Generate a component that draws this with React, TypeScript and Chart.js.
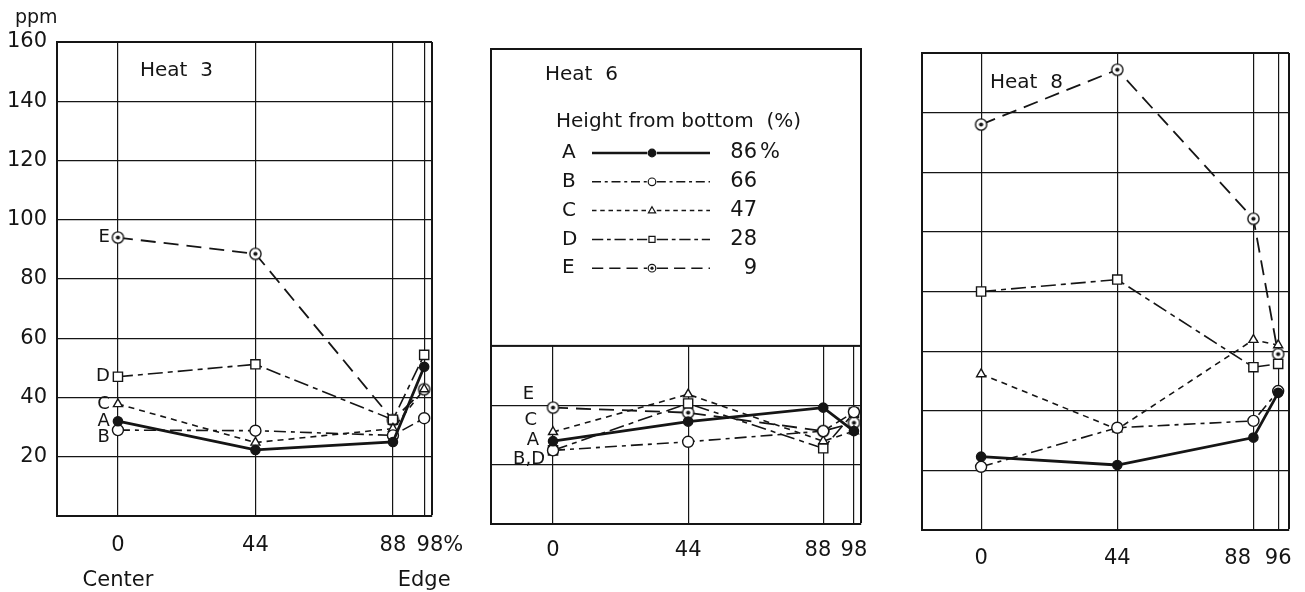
import React, { useEffect, useRef } from 'react';
import { Chart, registerables } from 'chart.js';

Chart.register(...registerables);

const FONT = '"DejaVu Sans", "Noto Sans", sans-serif';
const INK = '#151515';
const W = 1305;
const H = 592;
const EN = '\u2002';

// ---------- data ----------
const seriesNames = ['A', 'B', 'C', 'D', 'E'];
const heightsFromBottom = ['86%', '66', '47', '28', '9'];
const legendHeader = 'Height from bottom  (%)';

const heat3Positions = [0, 44, 88, 98];
const heat3TickLabels: (string | string[])[] = [['0', 'Center'], '44', '88', [EN + EN + EN + '98%', 'Edge']];
const heat3A = [32, 22.3, 25, 50.4];
const heat3B = [29, 28.8, 27.2, 33];
const heat3C = [37.8, 24.8, 29.5, 42.8];
const heat3D = [47, 51.2, 32.5, 54.4];
const heat3E = [94, 88.5, 32.4, 42.8];

const heat6Positions = [0, 44, 88, 98];
const heat6TickLabels: (string | string[])[] = ['0', '44', '88' + EN, '98'];
const heat6A = [27.9, 34.5, 39.2, 31.3];
const heat6B = [24.8, 27.7, 31.3, 37.7];
const heat6C = [31, 43.7, 27.9, 31.3];
const heat6D = [24.8, 40.6, 25.5, 37.5];
const heat6E = [39.2, 37.5, 31.3, 34.1];

const heat8Positions = [0, 44, 88, 96];
const heat8TickLabels: (string | string[])[] = ['0', '44', '88' + EN + EN + EN, '96'];
const heat8A = [24.6, 21.8, 31, 46];
const heat8B = [21.2, 34.3, 36.6, 46.6];
const heat8C = [52.3, 33.8, 63.8, 62];
const heat8D = [80, 84, 54.6, 55.7];
const heat8E = [136, 154.4, 104.4, 59];

const yMin = 0;
const yMax = 160;
const yStep = 20;

// ---------- styles ----------
type SeriesStyle = { dash: number[]; width: number; point: string; radius: number; fill: string };
const seriesStyles: SeriesStyle[] = [
  { dash: [], width: 2.8, point: 'circle', radius: 4.6, fill: INK },
  { dash: [12, 5, 4, 5], width: 1.6, point: 'circle', radius: 5.5, fill: '#fff' },
  { dash: [6, 5], width: 1.6, point: 'triangle', radius: 5.2, fill: '#fff' },
  { dash: [15, 5, 5, 5], width: 1.6, point: 'rect', radius: 6.5, fill: '#fff' },
  { dash: [15, 8], width: 1.8, point: 'eye', radius: 6, fill: '#fff' },
];

type Note = { text: string; s: number; dx: number; dy: number };
type PanelCfg = {
  key: string;
  title: string;
  positions: number[];
  tickLabels: (string | string[])[];
  values: number[][];
  area: { left: number; right: number; top: number; bottom: number };
  xMin: number;
  xMax: number;
  showY: boolean;
  tickPad: number;
  tickLineHeight: number;
  titleAt: [number, number];
  notes: Note[];
  legend: boolean;
  legendFloor: number;
};

const panels: PanelCfg[] = [
  {
    key: 'h3',
    title: 'Heat  3',
    positions: heat3Positions,
    tickLabels: heat3TickLabels,
    values: [heat3A, heat3B, heat3C, heat3D, heat3E],
    area: { left: 57, right: 432, top: 42, bottom: 516 },
    xMin: -19.5,
    xMax: 100.5,
    showY: true,
    tickPad: 12,
    tickLineHeight: 35 / 21,
    titleAt: [83, 29],
    notes: [
      { text: 'E', s: 4, dx: -8, dy: 0 },
      { text: 'D', s: 3, dx: -8, dy: 0 },
      { text: 'C', s: 2, dx: -8, dy: 0 },
      { text: 'A', s: 0, dx: -8, dy: 0 },
      { text: 'B', s: 1, dx: -8, dy: 7 },
    ],
    legend: false,
    legendFloor: 60,
  },
  {
    key: 'h6',
    title: 'Heat  6',
    positions: heat6Positions,
    tickLabels: heat6TickLabels,
    values: [heat6A, heat6B, heat6C, heat6D, heat6E],
    area: { left: 491, right: 861, top: 49, bottom: 524 },
    xMin: -20.2,
    xMax: 100.3,
    showY: false,
    tickPad: 14,
    tickLineHeight: 1.2,
    titleAt: [54, 26],
    notes: [
      { text: 'E', s: 4, dx: -19, dy: -13 },
      { text: 'C', s: 2, dx: -16, dy: -12 },
      { text: 'A', s: 0, dx: -14, dy: -1 },
      { text: 'B,D', s: 1, dx: -8, dy: 9 },
    ],
    legend: true,
    legendFloor: 60,
  },
  {
    key: 'h8',
    title: 'Heat  8',
    positions: heat8Positions,
    tickLabels: heat8TickLabels,
    values: [heat8A, heat8B, heat8C, heat8D, heat8E],
    area: { left: 922, right: 1289, top: 53, bottom: 530 },
    xMin: -19.1,
    xMax: 99.5,
    showY: false,
    tickPad: 16,
    tickLineHeight: 1.2,
    titleAt: [68, 30],
    notes: [],
    legend: false,
    legendFloor: 60,
  },
];

let eyeCache: HTMLCanvasElement | null = null;
function getEye(): HTMLCanvasElement {
  if (eyeCache) return eyeCache;
  const c = document.createElement('canvas');
  c.width = 15;
  c.height = 15;
  const g = c.getContext('2d')!;
  g.fillStyle = '#fff';
  g.strokeStyle = INK;
  g.lineWidth = 1.4;
  g.beginPath();
  g.arc(7.5, 7.5, 5.6, 0, Math.PI * 2);
  g.fill();
  g.stroke();
  g.fillStyle = INK;
  g.beginPath();
  g.arc(7.5, 7.5, 2.1, 0, Math.PI * 2);
  g.fill();
  eyeCache = c;
  return c;
}

function drawMarker(ctx: CanvasRenderingContext2D, st: SeriesStyle, x: number, y: number, r: number) {
  ctx.save();
  ctx.setLineDash([]);
  ctx.lineWidth = 1.2;
  ctx.strokeStyle = INK;
  ctx.fillStyle = st.point === 'eye' ? '#fff' : st.fill;
  ctx.beginPath();
  if (st.point === 'circle' || st.point === 'eye') {
    ctx.arc(x, y, r, 0, Math.PI * 2);
  } else if (st.point === 'triangle') {
    ctx.moveTo(x, y - r);
    ctx.lineTo(x + r * 0.95, y + r * 0.6);
    ctx.lineTo(x - r * 0.95, y + r * 0.6);
    ctx.closePath();
  } else {
    ctx.rect(x - r * 0.8, y - r * 0.8, r * 1.6, r * 1.6);
  }
  ctx.fill();
  ctx.stroke();
  if (st.point === 'eye') {
    ctx.fillStyle = INK;
    ctx.beginPath();
    ctx.arc(x, y, 1.6, 0, Math.PI * 2);
    ctx.fill();
  }
  ctx.restore();
}

function makePlugin(p: PanelCfg) {
  return {
    id: 'panelText_' + p.key,
    beforeDatasetsDraw(chart: any) {
      if (!p.legend) return;
      const { ctx, chartArea: a, scales } = chart;
      const yFloor = scales.y.getPixelForValue(p.legendFloor);
      ctx.save();
      ctx.fillStyle = '#fff';
      ctx.fillRect(a.left, a.top, a.right - a.left, yFloor - a.top);
      ctx.strokeStyle = INK;
      ctx.lineWidth = 2;
      ctx.strokeRect(a.left, a.top, a.right - a.left, yFloor - a.top);

      ctx.fillStyle = INK;
      ctx.textBaseline = 'middle';
      ctx.font = `20px ${FONT}`;
      ctx.textAlign = 'left';
      ctx.fillText(legendHeader, a.left + 65, a.top + 73);
      seriesNames.forEach((name, i) => {
        const st = seriesStyles[i];
        const y = a.top + 104 + i * 28.8;
        ctx.font = `20px ${FONT}`;
        ctx.textAlign = 'left';
        ctx.fillStyle = INK;
        ctx.fillText(name, a.left + 71, y);
        const x1 = a.left + 101;
        const x2 = a.left + 219;
        const mx = a.left + 161;
        const r = 3.8;
        ctx.save();
        ctx.strokeStyle = INK;
        ctx.lineWidth = i === 0 ? 2.6 : 1.5;
        ctx.setLineDash(st.dash.length ? st.dash.map((d) => d * 0.75) : []);
        ctx.beginPath();
        ctx.moveTo(x1, y);
        ctx.lineTo(mx - r - 1, y);
        ctx.stroke();
        ctx.beginPath();
        ctx.moveTo(mx + r + 1, y);
        ctx.lineTo(x2, y);
        ctx.stroke();
        ctx.restore();
        drawMarker(ctx, st, mx, y, r);
        const v = heightsFromBottom[i];
        const num = v.replace('%', '');
        ctx.font = `21px ${FONT}`;
        ctx.fillStyle = INK;
        ctx.textAlign = 'right';
        ctx.fillText(num, a.left + 266, y);
        if (v.endsWith('%')) {
          ctx.textAlign = 'left';
          ctx.fillText('%', a.left + 269, y);
        }
      });
      ctx.restore();
    },
    afterDatasetsDraw(chart: any) {
      const { ctx, chartArea: a, scales } = chart;
      ctx.save();
      ctx.fillStyle = INK;
      ctx.textBaseline = 'middle';
      ctx.textAlign = 'left';
      ctx.font = `20px ${FONT}`;
      ctx.fillText(p.title, a.left + p.titleAt[0], a.top + p.titleAt[1]);
      if (p.showY) {
        ctx.font = `19px ${FONT}`;
        ctx.textBaseline = 'alphabetic';
        ctx.fillText('ppm', a.left - 42, a.top - 19);
      }
      ctx.font = `18px ${FONT}`;
      ctx.textAlign = 'right';
      ctx.textBaseline = 'middle';
      p.notes.forEach((n) => {
        const px = scales.x.getPixelForValue(p.positions[0]);
        const py = scales.y.getPixelForValue(p.values[n.s][0]);
        ctx.fillText(n.text, px + n.dx, py + n.dy);
      });
      ctx.restore();
    },
  };
}

function PanelChart({ p }: { p: PanelCfg }) {
  const ref = useRef<HTMLCanvasElement | null>(null);
  useEffect(() => {
    if (!ref.current) return;
    const eye = getEye();
    const datasets = p.values.map((vals, s) => {
      const st = seriesStyles[s];
      return {
        label: seriesNames[s],
        data: p.positions.map((x, i) => ({ x, y: vals[i] })),
        borderColor: INK,
        borderWidth: st.width,
        borderDash: st.dash,
        pointStyle: st.point === 'eye' ? eye : st.point,
        pointRadius: st.radius,
        pointBorderWidth: 1.4,
        pointBorderColor: INK,
        pointBackgroundColor: st.fill,
        backgroundColor: st.fill,
        fill: false,
        tension: 0,
        clip: false,
      };
    });
    const yW = p.showY ? p.area.left : 0;
    const xH = H - p.area.bottom;
    const xTickValues = [...p.positions, p.xMax];
    const chart = new Chart(ref.current, {
      type: 'line',
      data: { datasets: datasets as any },
      options: {
        responsive: false,
        animation: false,
        devicePixelRatio: 1,
        events: [],
        layout: {
          padding: {
            left: p.area.left - yW,
            top: p.area.top,
            right: W - p.area.right,
            bottom: 0,
          },
        },
        plugins: {
          legend: { display: false },
          tooltip: { enabled: false },
          title: { display: false },
        },
        scales: {
          x: {
            type: 'linear',
            min: p.xMin,
            max: p.xMax,
            afterBuildTicks: (scale: any) => {
              scale.ticks = xTickValues.map((v) => ({ value: v }));
            },
            afterFit: (scale: any) => {
              scale.height = xH;
            },
            border: { display: true, color: INK, width: 2 },
            grid: {
              color: INK,
              drawTicks: false,
              lineWidth: (c: any) => (c.tick && c.tick.value === p.xMax ? 2 : 1.2),
            },
            ticks: {
              autoSkip: false,
              maxRotation: 0,
              padding: p.tickPad,
              color: INK,
              font: { family: FONT, size: 21, lineHeight: p.tickLineHeight },
              callback: (v: any) => {
                const i = p.positions.indexOf(Number(v));
                return i >= 0 ? p.tickLabels[i] : '';
              },
            },
          },
          y: {
            type: 'linear',
            min: yMin,
            max: yMax,
            afterFit: (scale: any) => {
              scale.width = yW;
            },
            border: { display: true, color: INK, width: 2 },
            grid: {
              drawTicks: false,
              color: (c: any) => {
                if (p.legend && c.tick && c.tick.value > p.legendFloor && c.tick.value < yMax) return 'rgba(0,0,0,0)';
                return INK;
              },
              lineWidth: (c: any) => (c.tick && c.tick.value === yMax ? 2 : 1.2),
            },
            ticks: {
              display: p.showY,
              stepSize: yStep,
              padding: 10,
              color: INK,
              font: { family: FONT, size: 21 },
              callback: (v: any) => (Number(v) === 0 ? '' : String(v)),
            },
          },
        },
      } as any,
      plugins: [makePlugin(p)],
    });
    return () => chart.destroy();
  }, [p]);
  return (
    <canvas
      ref={ref}
      width={W}
      height={H}
      style={{ position: 'absolute', left: 0, top: 0, width: W, height: H }}
    />
  );
}

export default function App() {
  return (
    <div style={{ position: 'absolute', left: 0, top: 0, width: W, height: H, background: '#fff', overflow: 'hidden' }}>
      {panels.map((p) => (
        <PanelChart key={p.key} p={p} />
      ))}
    </div>
  );
}
